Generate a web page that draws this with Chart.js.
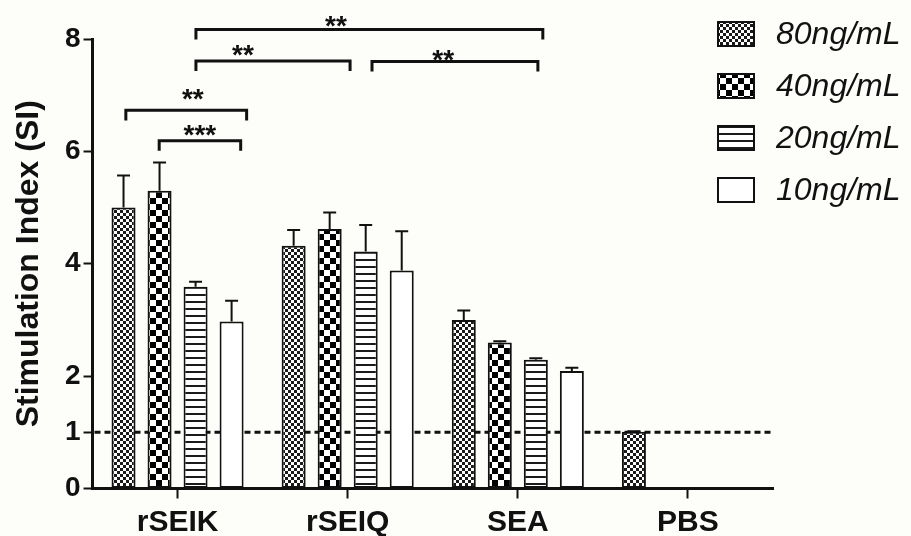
<!DOCTYPE html>
<html>
<head>
<meta charset="utf-8">
<script src="https://cdn.jsdelivr.net/npm/chart.js@4.4.0/dist/chart.umd.min.js"></script>
<style>
  html, body { margin: 0; padding: 0; background: #fdfdfa; }
  #wrap { width: 911px; height: 536px; position: relative; }
</style>
</head>
<body>
<div id="wrap"><canvas id="c"></canvas></div>
<script>
// ---------------- data ----------------
const categories = ['rSEIK', 'rSEIQ', 'SEA', 'PBS'];
const seriesLabels = ['80ng/mL', '40ng/mL', '20ng/mL', '10ng/mL'];
const si80 = [5.00, 4.32, 3.00, 1.01];
const si40 = [5.30, 4.62, 2.60, null];
const si20 = [3.59, 4.22, 2.29, null];
const si10 = [2.97, 3.88, 2.09, null];
const err80 = [0.57, 0.28, 0.17, 0.01];
const err40 = [0.50, 0.29, 0.02, null];
const err20 = [0.09, 0.47, 0.03, null];
const err10 = [0.37, 0.70, 0.06, null];
const yTicks = [0, 1, 2, 4, 6, 8];
const baselineSI = 1;
// significance brackets: from/to in category units, y in SI units
const bracketFrom  = [0.108, 0.108, 1.143, -0.304, -0.108];
const bracketTo    = [2.147, 1.014, 2.118, 0.406, 0.371];
const bracketY     = [8.17, 7.61, 7.60, 6.73, 6.19];
const bracketText  = ['**', '**', '**', '**', '***'];
const bracketTextX = [0.931, 0.384, 1.561, 0.090, 0.131];
const bracketTextY = [8.35, 7.84, 7.75, 7.06, 6.42];

const values = [si80, si40, si20, si10];
const errors = [err80, err40, err20, err10];

// ---------------- patterns ----------------
const canvas = document.getElementById('c');
const mainCtx = canvas.getContext('2d');
function checker(cell, fg, bg) {
  const c = document.createElement('canvas');
  c.width = c.height = cell * 2;
  const x = c.getContext('2d');
  x.fillStyle = bg; x.fillRect(0, 0, cell * 2, cell * 2);
  x.fillStyle = fg; x.fillRect(0, 0, cell, cell); x.fillRect(cell, cell, cell, cell);
  return mainCtx.createPattern(c, 'repeat');
}
function hlines(period, thick, fg, bg) {
  const c = document.createElement('canvas');
  c.width = 8; c.height = period;
  const x = c.getContext('2d');
  x.fillStyle = bg; x.fillRect(0, 0, 8, period);
  x.fillStyle = fg; x.fillRect(0, 0, 8, thick);
  return mainCtx.createPattern(c, 'repeat');
}
const fills = [checker(3, '#1a1a1a', '#ffffff'), checker(6, '#000000', '#ffffff'), hlines(7, 2, '#1a1a1a', '#ffffff'), '#ffffff'];

const FONT = "'Liberation Sans', Arial, Helvetica, sans-serif";

// ---------------- plugins ----------------
const bgPlugin = {
  id: 'bg',
  beforeDraw(chart) {
    const ctx = chart.ctx;
    ctx.save(); ctx.fillStyle = '#fdfdfa'; ctx.fillRect(0, 0, chart.width, chart.height); ctx.restore();
  }
};

const baselinePlugin = {
  id: 'baseline',
  beforeDatasetsDraw(chart) {
    const ctx = chart.ctx, y = chart.scales.y, a = chart.chartArea;
    const py = y.getPixelForValue(baselineSI);
    ctx.save();
    ctx.strokeStyle = '#111'; ctx.lineWidth = 3; ctx.setLineDash([6, 4]);
    ctx.beginPath(); ctx.moveTo(a.left + 2, py); ctx.lineTo(a.right, py); ctx.stroke();
    ctx.restore();
  }
};

const errorPlugin = {
  id: 'errbars',
  afterDatasetsDraw(chart) {
    const ctx = chart.ctx, y = chart.scales.y;
    ctx.save();
    ctx.strokeStyle = '#111'; ctx.lineWidth = 2;
    errors.forEach((errs, i) => {
      const meta = chart.getDatasetMeta(i);
      meta.data.forEach((bar, j) => {
        const v = values[i][j], e = errs[j];
        if (v == null || e == null) return;
        const y0 = y.getPixelForValue(v), y1 = y.getPixelForValue(v + e);
        const half = bar.width * 0.27;
        ctx.beginPath();
        ctx.moveTo(bar.x, y0); ctx.lineTo(bar.x, y1);
        ctx.moveTo(bar.x - half, y1); ctx.lineTo(bar.x + half, y1);
        ctx.stroke();
      });
    });
    ctx.restore();
  }
};

const bracketPlugin = {
  id: 'brackets',
  afterDraw(chart) {
    const ctx = chart.ctx, x = chart.scales.x, y = chart.scales.y;
    const x0 = x.getPixelForValue(0), step = x.getPixelForValue(1) - x0;
    const px = u => x0 + u * step;
    ctx.save();
    ctx.strokeStyle = '#111'; ctx.lineWidth = 3; ctx.lineCap = 'butt'; ctx.lineJoin = 'miter';
    bracketFrom.forEach((f, i) => {
      const yy = y.getPixelForValue(bracketY[i]);
      const leg = y.getPixelForValue(bracketY[i] - 0.18);
      ctx.beginPath();
      ctx.moveTo(px(f), leg); ctx.lineTo(px(f), yy); ctx.lineTo(px(bracketTo[i]), yy); ctx.lineTo(px(bracketTo[i]), leg);
      ctx.stroke();
    });
    const fs = 28;
    ctx.fillStyle = '#111'; ctx.font = 'bold ' + fs + 'px ' + FONT; ctx.textAlign = 'center'; ctx.textBaseline = 'alphabetic';
    bracketText.forEach((t, i) => {
      const cy = y.getPixelForValue(bracketTextY[i]);
      ctx.fillText(t, px(bracketTextX[i]), cy + 0.57 * fs);
    });
    ctx.restore();
  }
};

const legendPlugin = {
  id: 'customLegend',
  afterDraw(chart) {
    const ctx = chart.ctx;
    ctx.save();
    chart.data.datasets.forEach((ds, i) => {
      const left = 717, top = 21 + i * 52, w = 38, h = 26;
      ctx.fillStyle = ds.backgroundColor; ctx.fillRect(left, top, w, h);
      ctx.strokeStyle = '#111'; ctx.lineWidth = 2; ctx.strokeRect(left + 1, top + 1, w - 2, h - 2);
      ctx.fillStyle = '#111'; ctx.font = 'italic 32px ' + FONT;
      ctx.textAlign = 'left'; ctx.textBaseline = 'middle';
      ctx.fillText(ds.label, 776, top + h / 2 + 1);
    });
    ctx.restore();
  }
};

// ---------------- chart ----------------
new Chart(canvas, {
  type: 'bar',
  data: {
    labels: categories,
    datasets: seriesLabels.map((lab, i) => ({
      label: lab,
      data: values[i],
      backgroundColor: fills[i],
      borderColor: '#111',
      borderWidth: 2,
      borderSkipped: false,
      categoryPercentage: 0.847,
      barPercentage: 0.667
    }))
  },
  options: {
    responsive: true,
    maintainAspectRatio: false,
    animation: false,
    devicePixelRatio: 1,
    layout: { padding: { top: 39, right: 138, left: 0, bottom: 0 } },
    plugins: { legend: { display: false }, tooltip: { enabled: false } },
    scales: {
      x: {
        offset: true,
        grid: { display: true, drawOnChartArea: false, offset: false, tickLength: 10, tickWidth: 2, tickColor: '#111' },
        border: { display: true, width: 3, color: '#111' },
        ticks: { color: '#111', font: { family: FONT, size: 30, weight: 'bold' }, padding: 6, maxRotation: 0 },
        afterFit(s) { s.height = 47.5; }
      },
      y: {
        min: 0, max: 8,
        afterBuildTicks(s) { s.ticks = yTicks.map(v => ({ value: v })); },
        grid: { display: true, drawOnChartArea: false, tickLength: 9, tickWidth: 2, tickColor: '#111' },
        border: { display: true, width: 3, color: '#111' },
        ticks: { color: '#111', font: { family: FONT, size: 28, weight: 'bold' }, padding: 3 },
        title: { display: true, text: 'Stimulation Index (SI)', color: '#111', font: { family: FONT, size: 32, weight: 'bold' }, padding: { top: 10, bottom: 0 } },
        afterFit(s) { s.width = 92.5; }
      }
    }
  },
  plugins: [bgPlugin, baselinePlugin, errorPlugin, bracketPlugin, legendPlugin]
});
</script>
</body>
</html>
